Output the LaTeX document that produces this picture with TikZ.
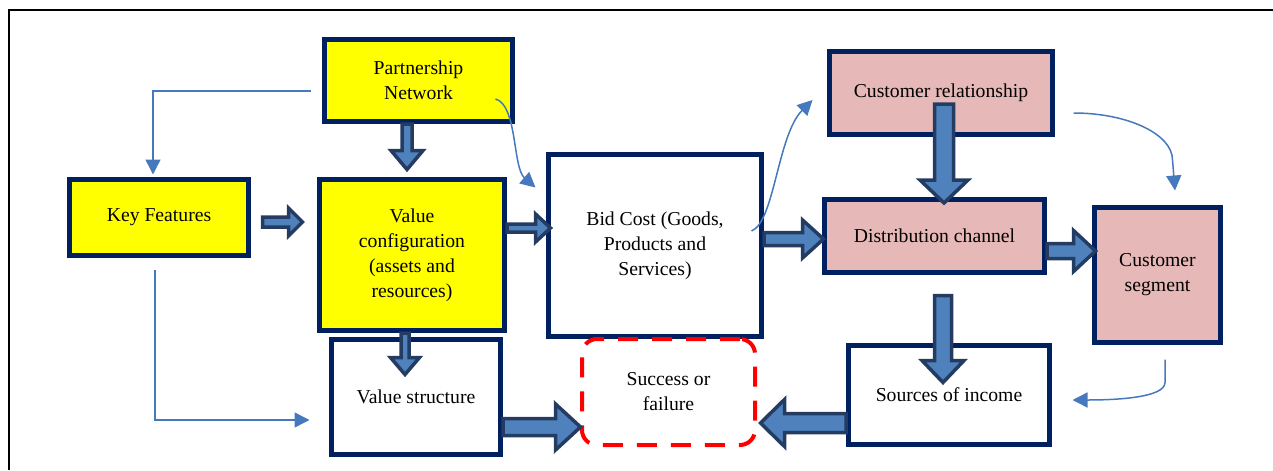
\documentclass[tikz,border=0pt]{standalone}
\usepackage{fontspec}
\setmainfont{Liberation Serif}
\usetikzlibrary{arrows.meta,calc}

\begin{document}
\begin{tikzpicture}[
    box/.style={draw=r0g32b96, line width=0.1cm, inner sep=0pt, align=center,
                font=\fontsize{11.2}{14.2}\selectfont},
    yellowbox/.style={box, fill=r255g255b0},
    pinkbox/.style={box, fill=r230g184b183},
    whitebox/.style={box, fill=white},
    dashbox/.style={draw=r255g0b0, line width=0.08cm, rounded corners=0.3cm,
                dash pattern=on 0.4cm off 0.28cm, inner sep=0pt, align=center,
                font=\fontsize{11.2}{14.2}\selectfont},
    fatline/.style={draw=r36g60b98, fill=r79g129b189, line width=0.07cm},
    thinarrow/.style={draw=r70g120b190, line width=0.03cm,
                -{Triangle[length=0.3cm,width=0.3cm]}},
    pics/fatarrow/.style args={#1/#2/#3/#4}{code={%
        \draw[fatline] (0,-#2/2) -- (#1-#4,-#2/2) -- (#1-#4,-#3/2) -- (#1,0)
          -- (#1-#4,#3/2) -- (#1-#4,#2/2) -- (0,#2/2) -- cycle;}}
  ]
                    \useasboundingbox (0,0) rectangle (25.46,9.40);

                    % Changing colors
                    \definecolor{r0g32b96}{rgb}{0.000000,0.125490,0.376471}%
                    \definecolor{r255g255b0}{rgb}{1.000000,1.000000,0.000000}%
                    \definecolor{r230g184b183}{rgb}{0.901961,0.721569,0.717647}%
                    \definecolor{r255g0b0}{rgb}{1.000000,0.000000,0.000000}%
                    \definecolor{r36g60b98}{rgb}{0.141176,0.235294,0.384314}%
                    \definecolor{r79g129b189}{rgb}{0.309804,0.505882,0.741176}%
                    \definecolor{r70g120b190}{rgb}{0.274510,0.470588,0.745098}%

                    % Drawing frame
                    \draw [line width=0.04cm] (0.18,0) -- (0.18,9.20) -- (25.46,9.20);%

                    % Drawing box Partnership Network
                    \node [yellowbox, minimum width=3.76cm, minimum height=1.64cm] (pn) at (8.37,7.79) {Partnership\\Network};%

                    % Drawing box Key Features
                    \node [yellowbox, minimum width=3.58cm, minimum height=1.52cm] (kf) at (3.18,5.05) {Key Features};%

                    % Drawing box Value configuration
                    \node [yellowbox, minimum width=3.70cm, minimum height=3.02cm] (vc) at (8.24,4.30) {Value\\configuration\\(assets and\\resources)};%

                    % Drawing box Bid Cost
                    \node [whitebox, minimum width=4.26cm, minimum height=3.64cm] (bc) at (13.10,4.49) {Bid Cost (Goods,\\Products and\\Services)};%

                    % Drawing box Customer relationship
                    \node [pinkbox, minimum width=4.46cm, minimum height=1.66cm] (cr) at (18.82,7.54) {Customer relationship};%

                    % Drawing box Distribution channel
                    \node [pinkbox, minimum width=4.40cm, minimum height=1.46cm] (dc) at (18.69,4.68) {Distribution channel};%

                    % Drawing box Customer segment
                    \node [pinkbox, minimum width=2.52cm, minimum height=2.70cm] (cs) at (23.15,3.90) {Customer\\segment};%

                    % Drawing box Sources of income
                    \node [whitebox, minimum width=4.02cm, minimum height=1.98cm] (si) at (18.98,1.50) {Sources of income};%

                    % Drawing box Value structure
                    \node [whitebox, minimum width=3.38cm, minimum height=2.30cm] (vs) at (8.32,1.46) {Value structure};%

                    % Drawing box Success or failure
                    \node [dashbox, minimum width=3.46cm, minimum height=2.12cm] (sf) at (13.37,1.56) {Success or\\failure};%

                    % Drawing block arrows
                    \pic at ([xshift=0.23cm,yshift=-0.09cm]kf.east) {fatarrow=0.80/0.20/0.56/0.28};%
                    \pic [rotate=-90] at ([xshift=-0.23cm]pn.south) {fatarrow=0.91/0.20/0.64/0.38};%
                    \pic at ([yshift=0.54cm]vc.east) {fatarrow=0.87/0.16/0.56/0.30};%
                    \pic [rotate=-90] at ([xshift=-0.14cm]vc.south) {fatarrow=0.83/0.16/0.58/0.34};%
                    \pic at ([yshift=0.13cm]bc.east) {fatarrow=1.19/0.26/0.76/0.42};%
                    \pic [rotate=-90] at ([xshift=0.06cm,yshift=-0.22cm]cr.center) {fatarrow=1.98/0.38/0.96/0.46};%
                    \pic [rotate=-90] at ([xshift=0.17cm,yshift=-0.41cm]dc.south) {fatarrow=1.74/0.34/0.84/0.44};%
                    \pic at ([yshift=-0.30cm]dc.east) {fatarrow=0.97/0.30/0.82/0.44};%
                    \pic [rotate=180] at ([yshift=-0.56cm]si.west) {fatarrow=1.71/0.38/0.94/0.48};%
                    \pic at ([yshift=-0.60cm]vs.east) {fatarrow=1.55/0.34/0.92/0.50};%

                    % Drawing line pn kf
                    \draw [thinarrow] ([xshift=-0.23cm,yshift=-0.21cm]pn.west) -| ([xshift=-0.12cm,yshift=0.05cm]kf.north);%

                    % Drawing line kf vs
                    \draw [thinarrow] ([xshift=-0.08cm,yshift=-0.23cm]kf.south) |- ([xshift=-0.39cm,yshift=-0.46cm]vs.west);%

                    % Drawing curve pn bc
                    \draw [thinarrow] ([xshift=-0.39cm,yshift=-0.37cm]pn.east) .. controls +(0.44,-0.12) and +(-0.46,0.40) .. ([xshift=-0.21cm,yshift=-0.71cm]bc.north west);%

                    % Drawing curve bc cr
                    \draw [thinarrow] ([xshift=-0.25cm,yshift=0.29cm]bc.east) .. controls +(0.46,0.18) and +(-0.70,-0.70) .. ([xshift=-0.29cm,yshift=-0.14cm]cr.west);%

                    % Drawing curve cr cs
                    \draw [thinarrow] ([xshift=0.37cm,yshift=-0.40cm]cr.east) .. controls +(1.08,0) and +(0,0.52) .. ++(1.98,-0.94) -- ([xshift=0.35cm,yshift=0.29cm]cs.north);%

                    % Drawing curve cs si
                    \draw [thinarrow] ([xshift=0.15cm,yshift=-0.29cm]cs.south) -- ++(0,-0.46) .. controls +(0,-0.30) and +(0.90,0) .. ([xshift=0.41cm,yshift=-0.10cm]si.east);%
                    \end{tikzpicture}
\end{document}
